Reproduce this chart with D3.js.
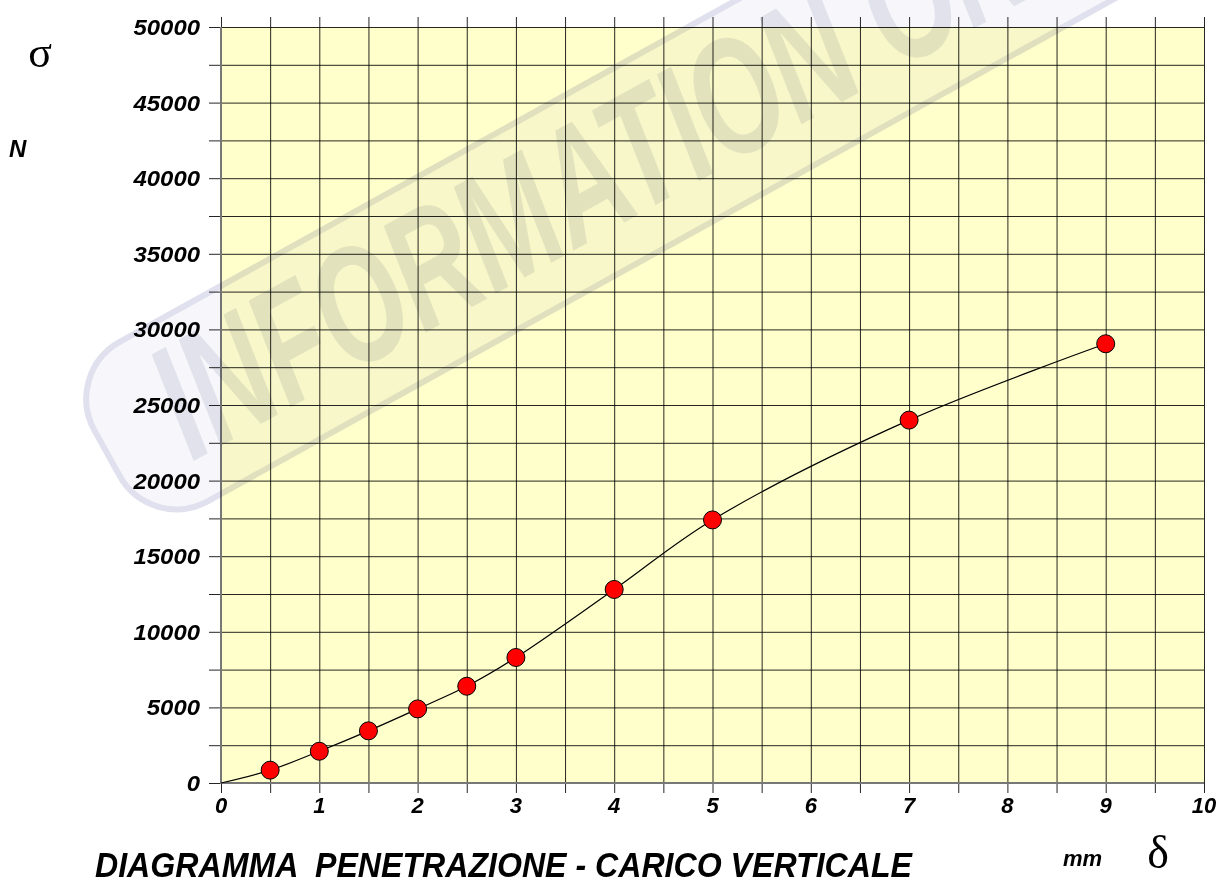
<!DOCTYPE html>
<html>
<head>
<meta charset="utf-8">
<script src="https://cdn.jsdelivr.net/npm/d3@7"></script>
<style>
  body { margin: 0; background: #fff; }
  svg text { font-family: "Liberation Sans", Arial, sans-serif; }
  .lbl { font-weight: bold; font-style: italic; font-size: 22px; fill: #000; }
</style>
</head>
<body>
<svg width="1221" height="884"></svg>
<script>
// Data (penetration mm vs vertical load N)
var penetration = [0.5, 1, 1.5, 2, 2.5, 3, 4, 5, 7, 9];
var load = [850, 2100, 3450, 4900, 6400, 8300, 12800, 17400, 24000, 29050];
var xTickLabels = [0, 1, 2, 3, 4, 5, 6, 7, 8, 9, 10];
var yTickLabels = [0, 5000, 10000, 15000, 20000, 25000, 30000, 35000, 40000, 45000, 50000];

var svg = d3.select("svg"),
    margin = {top: 27, right: 17, bottom: 101, left: 221},
    width = +svg.attr("width") - margin.left - margin.right,
    height = +svg.attr("height") - margin.top - margin.bottom;

var g = svg.append("g")
    .attr("transform", "translate(" + margin.left + "," + margin.top + ")");

// Scales
var x = d3.scaleLinear().domain([0, 10]).range([0, width]),
    y = d3.scaleLinear().domain([0, 50000]).range([height, 0]);

// Plot background
g.append("rect")
    .attr("width", width)
    .attr("height", height)
    .attr("fill", "#ffffcc");

// Grid lines (every 0.5 mm and every 2500 N) with outward ticks
var xGrid = d3.range(0, 10.01, 0.5),
    yGrid = d3.range(0, 50001, 2500);

g.append("g")
    .attr("class", "axis axis--x")
    .attr("transform", "translate(0," + height + ")")
    .call(d3.axisBottom(x)
        .tickValues(xGrid)
        .tickSizeInner(-height - 10)
        .tickSizeOuter(0)
        .tickFormat(""))
    .call(a => a.select(".domain").remove())
    .call(a => a.selectAll(".tick line")
        .attr("y1", 10)
        .attr("stroke", "#000")
        .attr("stroke-opacity", 0.85));

g.append("g")
    .attr("class", "axis axis--y")
    .call(d3.axisLeft(y)
        .tickValues(yGrid)
        .tickSizeInner(-width)
        .tickSizeOuter(0)
        .tickFormat(""))
    .call(a => a.select(".domain").remove())
    .call(a => a.selectAll(".tick line")
        .attr("x1", -12)
        .attr("stroke", "#000")
        .attr("stroke-opacity", 0.85));

// Frame edges look greyer and a bit heavier
g.append("path")
    .attr("d", "M0,0V" + height + "H" + width)
    .attr("fill", "none")
    .attr("stroke", "#777")
    .attr("stroke-width", 2);

// Tick labels
g.selectAll(".ylbl")
    .data(yTickLabels)
    .enter().append("text")
    .attr("class", "lbl ylbl")
    .attr("x", -21)
    .attr("y", (d) => y(d))
    .attr("dy", "0.36em")
    .attr("text-anchor", "end")
    .attr("textLength", (d) => String(d).length * 13.3)
    .attr("lengthAdjust", "spacingAndGlyphs")
    .text((d) => d);

g.selectAll(".xlbl")
    .data(xTickLabels)
    .enter().append("text")
    .attr("class", "lbl xlbl")
    .attr("x", (d) => x(d))
    .attr("y", height + 30)
    .attr("text-anchor", "middle")
    .text((d) => d);

// Watermark
var wm = svg.append("g")
    .attr("transform", "translate(192,462) rotate(-29)")
    .style("mix-blend-mode", "multiply");

wm.append("rect")
    .attr("x", -70)
    .attr("y", -140)
    .attr("width", 1500)
    .attr("height", 182)
    .attr("rx", 65)
    .attr("fill", "#f7f7fb")
    .attr("stroke", "#e0e0ee")
    .attr("stroke-width", 6);

wm.append("text")
    .attr("x", 0)
    .attr("y", 0)
    .attr("font-size", 165)
    .attr("font-weight", "bold")
    .attr("font-style", "italic")
    .attr("fill", "#e2e2ec")
    .attr("textLength", 1106)
    .attr("lengthAdjust", "spacingAndGlyphs")
    .text("INFORMATION ONLY");

// Curve through origin and measured points
var pts = [[0, 0]].concat(penetration.map((d, i) => [d, load[i]]));

var line = d3.line()
    .x((d) => x(d[0]))
    .y((d) => y(d[1]))
    .curve(d3.curveCatmullRom.alpha(0.5));

g.append("path")
    .datum(pts)
    .attr("fill", "none")
    .attr("stroke", "#000")
    .attr("stroke-width", 1.2)
    .attr("d", line);

g.selectAll(".dot")
    .data(penetration)
    .enter().append("circle")
    .attr("class", "dot")
    .attr("cx", (d) => x(d))
    .attr("cy", (d, i) => y(load[i]))
    .attr("r", 9)
    .attr("fill", "#ff0000")
    .attr("stroke", "#000")
    .attr("stroke-width", 1);

// Axis symbols and title
svg.append("text")
    .attr("x", 40).attr("y", 67)
    .attr("text-anchor", "middle")
    .style("font-family", "'Liberation Serif', 'Times New Roman', serif")
    .style("font-size", "44px")
    .text("σ");

svg.append("text")
    .attr("class", "lbl")
    .attr("x", 9).attr("y", 157)
    .style("font-size", "24px")
    .text("N");

svg.append("text")
    .attr("class", "lbl")
    .attr("x", 1063).attr("y", 866)
    .text("mm");

svg.append("text")
    .attr("x", 1158).attr("y", 868)
    .attr("text-anchor", "middle")
    .style("font-family", "'Liberation Serif', 'Times New Roman', serif")
    .style("font-size", "46px")
    .text("δ");

svg.append("text")
    .attr("class", "lbl")
    .attr("x", 95).attr("y", 877)
    .style("font-size", "35px")
    .style("white-space", "pre")
    .attr("textLength", 817)
    .attr("lengthAdjust", "spacingAndGlyphs")
    .text("DIAGRAMMA  PENETRAZIONE - CARICO VERTICALE");
</script>
</body>
</html>
